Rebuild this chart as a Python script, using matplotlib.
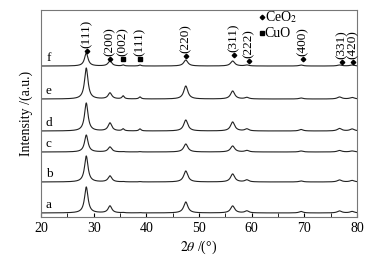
import numpy as np
import matplotlib
matplotlib.use("Agg")
import matplotlib.pyplot as plt
from matplotlib.ticker import MultipleLocator

plt.rcParams['font.family'] = ['Liberation Serif', 'DejaVu Serif']
plt.rcParams['mathtext.fontset'] = 'stix'

# samples, from bottom to top
samples = ['a', 'b', 'c', 'd', 'e', 'f']
offsets = [4, 35, 65, 86, 118, 151]

# peak positions (2theta, degrees)
peak_pos = [28.6, 33.1, 35.6, 38.8, 47.5, 56.4, 59.1, 69.4, 76.7, 79.1]
peak_fwhm = [0.8, 0.85, 0.5, 0.5, 0.95, 0.95, 0.9, 0.9, 1.0, 1.0]
# peak heights for each sample (same order as peak_pos)
heights = {
    'a': [26, 7, 0.3, 0.3, 11, 7, 2, 1.5, 2, 1.5],
    'b': [26, 6, 0.3, 0.3, 11, 8, 2, 1.0, 2, 1.5],
    'c': [17, 5, 0.3, 0.3, 8, 6, 1.5, 1.0, 1.5, 1.0],
    'd': [28, 8, 2, 2, 11, 9, 2, 1.5, 2.5, 2],
    'e': [31, 6, 3, 2, 13, 8, 1.5, 1.0, 2, 1.5],
    'f': [13, 5, 1, 1, 6, 5, 1, 1.0, 1, 1],
}

# reflection labels on curve f
ref_pos = [28.7, 33.1, 35.6, 38.8, 47.5, 56.6, 59.5, 69.7, 77.1, 79.2]
ref_labels = ['(111)', '(200)', '(002)', '(111)', '(220)', '(311)', '(222)', '(400)', '(331)', '(420)']
ref_phase = ['CeO2', 'CeO2', 'CuO', 'CuO', 'CeO2', 'CeO2', 'CeO2', 'CeO2', 'CeO2', 'CeO2']
ref_mark_y = [166, 158, 158, 158, 161, 162, 156, 158, 155, 155]

x = np.linspace(20, 80, 3000)

fig = plt.figure(figsize=(3.85, 2.58), dpi=100)
ax = fig.add_axes([0.1065, 0.159, 0.8205, 0.802])

for s, off in zip(samples, offsets):
    y = np.full_like(x, off, dtype=float)
    for p, w, h in zip(peak_pos, peak_fwhm, heights[s]):
        g = (w / 2) ** 2
        y += h * g / ((x - p) ** 2 + g)
    ax.plot(x, y, color='#222222', lw=0.8)
    ax.text(21.5, off + 8, s, fontsize=9.5, ha='center', va='center')

for p, lab, ph, my in zip(ref_pos, ref_labels, ref_phase, ref_mark_y):
    mk = 'D' if ph == 'CeO2' else 's'
    ms = 2.3 if ph == 'CeO2' else 2.8
    ax.plot(p, my, marker=mk, color='black', ms=ms, ls='none')
    ax.annotate(lab, (p, my), xytext=(0, 2.5), textcoords='offset points',
                rotation=90, ha='center', va='bottom', fontsize=9.5)

# legend
ax.plot(61.9, 200, marker='D', color='black', ms=2.3, ls='none')
ax.text(62.5, 200, 'CeO$_2$', fontsize=10, va='center')
ax.plot(61.9, 184, marker='s', color='black', ms=2.8, ls='none')
ax.text(62.5, 184, 'CuO', fontsize=10, va='center')

ax.set_xlim(20, 80)
ax.set_ylim(0, 207)
ax.xaxis.set_major_locator(MultipleLocator(10))
ax.xaxis.set_minor_locator(MultipleLocator(5))
ax.tick_params(axis='x', which='both', direction='in', length=3, labelsize=10)
ax.tick_params(axis='y', left=False, labelleft=False)
for sp in ax.spines.values():
    sp.set_color('#777777')
    sp.set_linewidth(0.8)

ax.set_xlabel(r'$2\theta$ /(°)', fontsize=10, labelpad=3)
ax.set_ylabel('Intensity /(a.u.)', fontsize=10, labelpad=6)

fig.savefig('out.png', dpi=100)
